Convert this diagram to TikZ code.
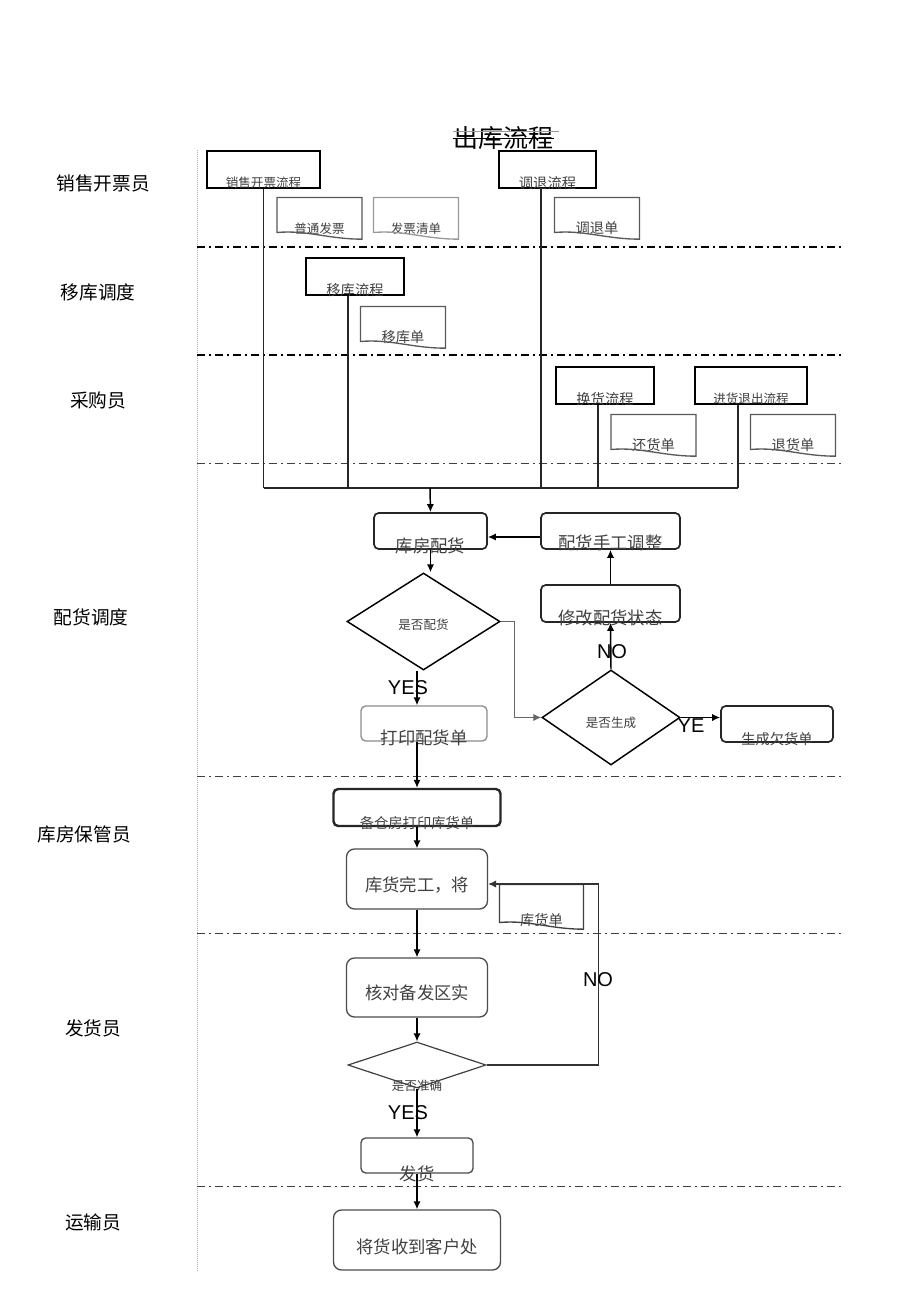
\documentclass[tikz,border=0pt]{standalone}
\usepackage{fontspec}
\setmainfont{Noto Sans CJK SC}
\newfontfamily\ynfont{Liberation Sans}
\usetikzlibrary{shapes.geometric,arrows.meta}
\tikzset{every picture/.style={line width=0.75pt}}

\begin{document}
\begin{tikzpicture}[x=0.75pt,y=0.75pt,yscale=-1,xscale=1,
  >={Latex[length=6pt,width=5.5pt]},
  proc/.style={draw,line width=1.8pt,inner sep=0pt},
  rbox/.style={draw=black!85,line width=1.3pt,rounded corners=3.5pt,inner sep=0pt},
  sbox/.style={draw=black!70,line width=1pt,rounded corners=6pt,inner sep=0pt},
  doc/.style={inner sep=0pt,minimum width=63pt,minimum height=25.5pt},
  dec/.style={draw,diamond,line width=1.1pt,inner sep=0pt},
  btxt/.style={anchor=center,inner sep=0pt,text=black!75},
  small/.style={font=\fontsize{9.4}{11}\selectfont},
  mid/.style={font=\fontsize{10.7}{12}\selectfont},
  big/.style={font=\fontsize{13}{15}\selectfont},
  lane/.style={line width=0.6pt,dash pattern=on 6pt off 3pt on 1.5pt off 3pt},
  role/.style={font=\fontsize{14}{16}\selectfont},
  yn/.style={font=\ynfont\fontsize{15}{17}\selectfont},
  flow/.style={->,line width=1.1pt}
]
\useasboundingbox (0,0) rectangle (920,1303);

% title
\node (title) at (503,138) [inner sep=0pt,font=\fontsize{18.75}{20}\selectfont] {出库流程};
\draw (title.west) -- (title.east);
\draw [black!40] ([yshift=4pt]title.north west) -- ([yshift=4pt,xshift=4pt]title.north east);

% lanes
\draw [black!30,densely dotted,line width=0.5pt] (197,150) -- (197,1272);
\foreach \y in {247,355} \draw [lane,line width=1.1pt] (197,\y) -- (845,\y);
\foreach \y in {463,776,933,1186} \draw [lane,black!75] (197,\y) -- (845,\y);

\node (l1) at (103,183) [role] {销售开票员};
\node (l2) at (98,292) [role] {移库调度};
\node (l3) at (98,400) [role] {采购员};
\node (l4) at (91,617) [role] {配货调度};
\node (l5) at (84,834) [role] {库房保管员};
\node (l6) at (93,1028) [role] {发货员};
\node (l7) at (93,1222) [role] {运输员};

% source processes
\node (p1) at (263.5,169.5) [proc,minimum width=84.75pt,minimum height=27.75pt,label={[btxt,small,yshift=4.5pt]south:销售开票流程}] {};
\node (p2) at (547.5,169.5) [proc,minimum width=72.75pt,minimum height=27.75pt,label={[btxt,mid,yshift=4.5pt]south:调退流程}] {};
\node (p3) at (355,276.5) [proc,minimum width=73.5pt,minimum height=27.75pt,label={[btxt,mid,yshift=4.5pt]south:移库流程}] {};
\node (p4) at (605,385.5) [proc,minimum width=73.5pt,minimum height=27.75pt,label={[btxt,mid,yshift=4.5pt]south:换货流程}] {};
\node (p5) at (751,385.5) [proc,minimum width=84pt,minimum height=27.75pt,label={[btxt,small,yshift=4.5pt]south:进货退出流程}] {};

% documents
\node (d1) at (319.5,215) [doc,label={[btxt,small,yshift=3pt]south:普通发票}] {};
\node (d2) at (416,215) [doc,label={[btxt,small,yshift=3pt]south:发票清单}] {};
\node (d3) at (597,215) [doc,label={[btxt,mid,yshift=3pt]south:调退单}] {};
\node (d4) at (403,324) [doc,label={[btxt,mid,yshift=3pt]south:移库单}] {};
\node (d5) at (653.5,432) [doc,label={[btxt,mid,yshift=3pt]south:还货单}] {};
\node (d6) at (793,432) [doc,label={[btxt,mid,yshift=3pt]south:退货单}] {};
\node (d7) at (541.5,903.5) [doc,minimum width=62.25pt,minimum height=27.75pt,label={[btxt,mid,yshift=2pt]south:库货单}] {};

\foreach \d/\c in {d1/black!65,d2/black!40,d3/black!65,d4/black!65,d5/black!65,d6/black!65,d7/black!75}
  \draw [\c,line width=1pt] (\d.south west) -- (\d.north west) -- (\d.north east) -- ([yshift=5pt]\d.south east) .. controls ([xshift=-25pt,yshift=5pt]\d.south east) and ([xshift=22pt,yshift=-2pt]\d.south west) .. (\d.south west) -- cycle;

% allocation
\node (a1) at (430.5,531) [rbox,minimum width=84.75pt,minimum height=27pt,label={[btxt,big,yshift=3pt]south:库房配货}] {};
\node (a2) at (610.5,531) [rbox,minimum width=104.25pt,minimum height=27pt,label={[btxt,big,yshift=5pt]south:配货手工调整}] {};
\node (a3) at (610.5,603.5) [rbox,minimum width=104.25pt,minimum height=27.75pt,label={[btxt,big,yshift=4pt]south:修改配货状态}] {};
\node (q1) at (423.5,621.5) [dec,minimum width=114.75pt,minimum height=72.75pt,label={[btxt,small,yshift=-2.5pt]center:是否配货}] {};
\node (q2) at (611,717.5) [dec,minimum width=103.5pt,minimum height=71.25pt,label={[btxt,small,yshift=-4pt]center:是否生成}] {};
\node (a4) at (424,723.5) [rbox,draw=black!45,line width=1pt,minimum width=94.5pt,minimum height=26.25pt,label={[btxt,big,yshift=2.5pt]south:打印配货单}] {};
\node (a5) at (777,724) [rbox,minimum width=84pt,minimum height=27pt,label={[btxt,mid,yshift=3pt]south:生成欠货单}] {};

% warehouse and delivery
\node (a6) at (417,807.5) [rbox,line width=1.8pt,minimum width=125.25pt,minimum height=27.75pt,label={[btxt,mid,yshift=3pt]south:备仓房打印库货单}] {};
\node (a7) at (417,879) [sbox,minimum width=105.75pt,minimum height=45pt,label={[btxt,big,yshift=-4.5pt]center:库货完工，将}] {};
\node (a8) at (417,987.5) [sbox,minimum width=105.75pt,minimum height=44.25pt,label={[btxt,big,yshift=-4pt]center:核对备发区实}] {};
\node (q3) at (417,1065) [dec,draw=black!75,line width=0.9pt,minimum width=103.5pt,minimum height=34.5pt,label={[btxt,small,yshift=2.25pt]south:是否准确}] {};
\node (a9) at (417,1155.5) [sbox,rounded corners=3.5pt,minimum width=84pt,minimum height=26.25pt,label={[btxt,big,yshift=0pt]south:发货}] {};
\node (a10) at (417,1240) [sbox,minimum width=125.25pt,minimum height=45pt,label={[btxt,big,yshift=-5pt]center:将货收到客户处}] {};

% collecting line
\coordinate (join) at (430,488);
\draw [black!85,line width=0.9pt] (p1.south) -- (p1.south |- join);
\draw [black!85,line width=0.9pt] ([xshift=-4.9pt]p2.south) -- ([xshift=-4.9pt]p2.south |- join);
\draw [black!85,line width=0.9pt] ([xshift=-5.25pt]p3.south) -- ([xshift=-5.25pt]p3.south |- join);
\draw [black!85,line width=0.9pt] ([xshift=-5.25pt]p4.south) -- ([xshift=-5.25pt]p4.south |- join);
\draw [black!85,line width=0.9pt] ([xshift=-9.75pt]p5.south) -- ([xshift=-9.75pt]p5.south |- join);
\draw [black!85,line width=0.9pt] (p1.south |- join) -- ([xshift=-9.75pt]p5.south |- join);
\draw [flow] (join) -- (a1.north);

% arrows
\draw [flow] (a1.south) -- (a1.south |- q1.north);
\draw [flow] (q1.south -| a6.north) -- (a4.north -| a6.north);
\draw [flow] (a4.south -| a6.north) -- (a6.north);
\draw [flow] (a6.south) -- (a7.north);
\draw [flow] (a7.south) -- (a8.north);
\draw [flow] (a8.south) -- (q3.north);
\draw [flow] (q3.south) -- (a9.north);
\draw [flow] (a9.south) -- (a10.north);
\draw [flow,black!60,line width=0.8pt] (q1.east) -- ++(14,0) |- (q2.west);
\draw [flow] (q2.north) -- (a3.south);
\draw [flow] (a3.north) -- (a2.south);
\draw [flow] ([yshift=4.5pt]a2.west) -- ([yshift=4.5pt]a2.west -| a1.east);
\draw [flow] (q2.east) -- (q2.east -| a5.west);
\draw [flow,black!80,line width=0.8pt] (q3.east) -- ++(112,0) |- ([yshift=3.75pt]a7.east);

\node (y1) at (408,688) [yn] {YES};
\node (n1) at (612,652) [yn] {NO};
\node (y2) at (691,726) [yn] {YE};
\node (n2) at (598,980) [yn] {NO};
\node (y3) at (408,1113) [yn] {YES};

\end{tikzpicture}
\end{document}
